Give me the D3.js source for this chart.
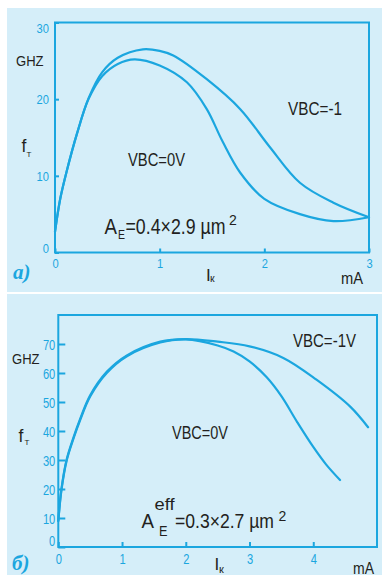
<!DOCTYPE html>
<html><head><meta charset="utf-8">
<script src="https://cdn.jsdelivr.net/npm/d3@7"></script>
<style>
html,body{margin:0;padding:0;background:#fff;}
svg{display:block;}
</style></head><body>
<svg id="c" width="382" height="575"></svg>
<script>
// ---------- data: panel a ----------
const aTicksX = [0, 1, 2, 3];
const aTicksY = [0, 10, 20, 30];
const aCurrent0 = [0, 0.05, 0.11, 0.21, 0.32, 0.45, 0.6, 0.76, 1.0, 1.26, 1.45, 1.6, 1.77, 2.0, 2.34, 2.66, 3.0];
const aFt0      = [2.7, 7, 10.5, 15.5, 20, 23, 24.6, 25.2, 24.4, 22.2, 18.7, 14.5, 10.4, 7.0, 5.0, 4.1, 4.6];
const aCurrent1 = [0, 0.05, 0.11, 0.21, 0.32, 0.45, 0.6, 0.84, 1.0, 1.13, 1.45, 1.77, 2.05, 2.34, 2.66, 3.0];
const aFt1      = [2.7, 7, 10.5, 15.5, 20.1, 23.5, 25.4, 26.5, 26.3, 25.7, 22.6, 18.7, 13.8, 9.1, 6.5, 4.6];
// ---------- data: panel b ----------
const bTicksX = [0, 1, 2, 3, 4];
const bTicksY = [0, 10, 20, 30, 40, 50, 60, 70];
const bCurrent0 = [0, 0.05, 0.13, 0.24, 0.34, 0.5, 0.76, 1.07, 1.6, 2.0, 2.5, 2.75, 3.0, 3.27, 3.5, 3.75, 4.0, 4.2, 4.42];
const bFt0      = [9, 19.7, 29.7, 37.5, 43.6, 51.9, 60, 65.7, 70.5, 71.6, 69.5, 67.4, 64, 58.5, 52, 43, 34.5, 28.5, 23.1];
const bCurrent1 = [0, 0.05, 0.13, 0.24, 0.34, 0.5, 0.76, 1.07, 1.6, 2.0, 2.5, 3.0, 3.53, 4.05, 4.58, 4.86];
const bFt1      = [9, 20.1, 30.1, 37.9, 44, 52.3, 60.4, 66, 70.8, 71.7, 70.8, 69.2, 65.2, 57.7, 48.4, 41.3];

const CYAN = "#1ba6df";
const BG = "#d5eef9";
const INK = "#231f20";
const SANS = "'Liberation Sans', Arial, sans-serif";
const SERIF = "'Liberation Serif', 'DejaVu Serif', serif";

const svg = d3.select("#c");

function txt(g, s, x, y, size, opts = {}) {
  const t = g.append("text").attr("x", x).attr("y", y)
    .attr("font-size", size).attr("font-family", opts.family || SANS)
    .attr("fill", opts.fill || INK).text(s);
  if (opts.len) t.attr("textLength", opts.len).attr("lengthAdjust", "spacingAndGlyphs");
  if (opts.weight) t.attr("font-weight", opts.weight);
  if (opts.style) t.attr("font-style", opts.style);
  return t;
}

function panel(cfg) {
  const g = svg.append("g");
  g.append("rect").attr("x", cfg.bg[0]).attr("y", cfg.bg[1]).attr("width", cfg.bg[2]).attr("height", cfg.bg[3]).attr("fill", BG);
  const x = d3.scaleLinear().domain(cfg.xDomain).range(cfg.xRange);
  const y = d3.scaleLinear().domain(cfg.yDomain).range(cfg.yRange);

  const ax = g.append("g").attr("transform", `translate(0,${y(0)})`)
    .call(d3.axisBottom(x).tickValues(cfg.ticksX).tickSize(-cfg.tickX).tickPadding(cfg.padX).tickFormat(d3.format("d")));
  const ay = g.append("g").attr("transform", `translate(${x(0)},0)`)
    .call(d3.axisLeft(y).tickValues(cfg.ticksY).tickSize(-cfg.tickY).tickPadding(cfg.padY).tickFormat(d3.format("d")));
  [ax, ay].forEach(a => {
    a.select(".domain").remove();
    a.selectAll("line").attr("stroke", CYAN).attr("stroke-width", 2);
    a.selectAll("text").attr("fill", CYAN).attr("font-family", SANS).attr("font-size", cfg.tickFont)
      .attr("textLength", d => String(d).length * cfg.digitW).attr("lengthAdjust", "spacingAndGlyphs");
  });
  ay.selectAll(".tick text").attr("dy", null).attr("dominant-baseline", "central");
  ay.selectAll(".tick").filter(d => d === 0).select("text").attr("y", cfg.y0Shift);
  if (cfg.yTopShift) ay.selectAll(".tick").filter(d => d === cfg.yDomain[1]).select("text").attr("y", cfg.yTopShift);

  g.append("rect").attr("x", x(cfg.xDomain[0])).attr("y", y(cfg.yDomain[1]))
    .attr("width", x(cfg.xDomain[1]) - x(cfg.xDomain[0])).attr("height", y(cfg.yDomain[0]) - y(cfg.yDomain[1]))
    .attr("fill", "none").attr("stroke", CYAN).attr("stroke-width", 2);

  const line = d3.line().x(d => x(d[0])).y(d => y(d[1])).curve(d3.curveCatmullRom.alpha(0.5));
  cfg.series.forEach(s => {
    g.append("path").datum(d3.zip(s[0], s[1])).attr("d", line)
      .attr("fill", "none").attr("stroke", CYAN).attr("stroke-width", 2.2).attr("stroke-linecap", "round");
  });
  return g;
}

// ---------- panel a ----------
const ga = panel({
  bg: [7, 8, 375, 284],
  xDomain: [0, 3], xRange: [55, 369],
  yDomain: [0, 30], yRange: [252.5, 22.5],
  ticksX: aTicksX, ticksY: aTicksY,
  tickX: 4, tickY: 4, padX: 6, padY: 6, tickFont: 13, digitW: 6.2,
  y0Shift: -4.5, yTopShift: 5.5,
  series: [[aCurrent0, aFt0], [aCurrent1, aFt1]]
});
txt(ga, "GHZ", 16, 65.5, 15.5, {len: 27.5});
txt(ga, "f", 21.5, 152, 17.5);
txt(ga, "T", 26.5, 156.5, 8);
txt(ga, "VBC=0V", 128, 166, 17.5, {len: 57});
txt(ga, "VBC=-1", 288, 114.5, 17.5, {len: 54});
txt(ga, "A", 104.5, 233.5, 22, {len: 12.5});
txt(ga, "E", 118, 238.5, 13, {len: 7});
txt(ga, "=0.4×2.9 µm", 125.5, 233.5, 22, {len: 100});
txt(ga, "2", 229, 225, 14);
txt(ga, "a)", 13, 279, 21, {family: SERIF, weight: "bold", style: "italic", fill: CYAN});
txt(ga, "I", 206, 281, 17);
txt(ga, "к", 210, 282, 10.5);
txt(ga, "mA", 341, 284, 16, {len: 22});

// ---------- panel b ----------
const gb = panel({
  bg: [7, 294, 375, 281],
  xDomain: [0, 5], xRange: [58.3, 377],
  yDomain: [0, 80], yRange: [547, 315],
  ticksX: bTicksX, ticksY: bTicksY,
  tickX: 5, tickY: 7, padX: 7, padY: 3, tickFont: 14, digitW: 6.2,
  y0Shift: -6.5, yTopShift: 0,
  series: [[bCurrent0, bFt0], [bCurrent1, bFt1]]
});
txt(gb, "GHZ", 12, 364, 15.5, {len: 27.5});
txt(gb, "f", 18.5, 442, 17.5);
txt(gb, "T", 24.5, 445, 8);
txt(gb, "VBC=-1V", 293, 346.5, 17.5, {len: 63});
txt(gb, "VBC=0V", 172, 439, 17.5, {len: 56});
txt(gb, "A", 141.5, 527.5, 20, {len: 12.5});
txt(gb, "eff", 154.5, 510, 16, {len: 20});
txt(gb, "E", 159, 536, 14, {len: 8.5});
txt(gb, "=0.3×2.7 µm", 175, 527.5, 20, {len: 99});
txt(gb, "2", 278.5, 521, 14);
txt(gb, "б)", 12, 570, 21, {family: SERIF, weight: "bold", style: "italic", fill: CYAN});
txt(gb, "I", 214.5, 570, 17);
txt(gb, "к", 219, 573, 11);
txt(gb, "mA", 353, 573.5, 16, {len: 21});
</script>
</body></html>
